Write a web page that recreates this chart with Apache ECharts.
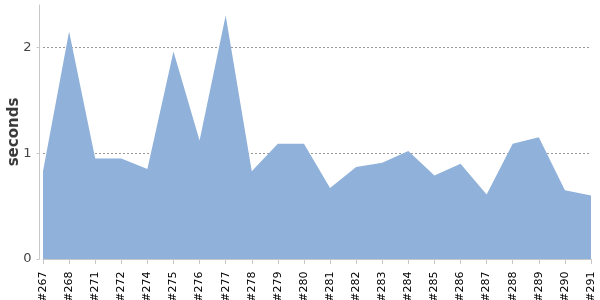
<!DOCTYPE html>
<html>
<head>
<meta charset="utf-8">
<script src="https://cdn.jsdelivr.net/npm/echarts@6/dist/echarts.min.js"></script>
<style>html,body{margin:0;padding:0;background:#fff;}#c{width:600px;height:300px;}</style>
</head>
<body>
<div id="c"></div>
<script>
const categories = ['#267','#268','#271','#272','#274','#275','#276','#277','#278','#279','#280','#281','#282','#283','#284','#285','#286','#287','#288','#289','#290','#291'];
const seconds = [0.83,2.15,0.95,0.95,0.85,1.96,1.12,2.30,0.83,1.09,1.09,0.67,0.87,0.91,1.02,0.79,0.90,0.61,1.09,1.15,0.65,0.60];
const yTicks = [0,1,2];

const chart = echarts.init(document.getElementById('c'), null, {renderer:'canvas'});
chart.setOption({
  animation:false,
  grid:{left:43,right:9,top:5,bottom:41,containLabel:false,outerBoundsMode:'none'},
  xAxis:{
    type:'category',data:categories,boundaryGap:false,offset:4.5,
    axisLine:{lineStyle:{color:'#c8c8c8',width:1}},
    axisTick:{interval:0,length:5,lineStyle:{color:'#c8c8c8'}},
    axisLabel:{interval:0,rotate:90,fontSize:11,color:'#000',fontFamily:'DejaVu Sans',margin:8}
  },
  yAxis:{
    type:'value',min:0,max:2.4,interval:1,offset:3.5,
    name:'seconds',nameLocation:'middle',nameGap:18,nameMoveOverlap:false,
    nameTextStyle:{fontSize:15,fontWeight:'bold',color:'#3a3a3a',fontFamily:'DejaVu Sans'},
    axisLine:{show:true,lineStyle:{color:'#c8c8c8',width:1}},
    axisTick:{show:true,length:3,lineStyle:{color:'#c8c8c8'}},
    axisLabel:{fontSize:13,color:'#444',fontFamily:'DejaVu Sans',showMaxLabel:false,
      formatter:v=>yTicks.includes(v)?String(v):''},
    splitLine:{show:true,showMaxLine:false,showMinLine:false,lineStyle:{color:'#999',type:[2,2],width:1}}
  },
  series:[{
    type:'line',data:seconds,symbol:'none',z:3,
    lineStyle:{width:0,color:'#8fb1da'},
    areaStyle:{color:'#8fb1da',opacity:1}
  }]
});
</script>
</body>
</html>
